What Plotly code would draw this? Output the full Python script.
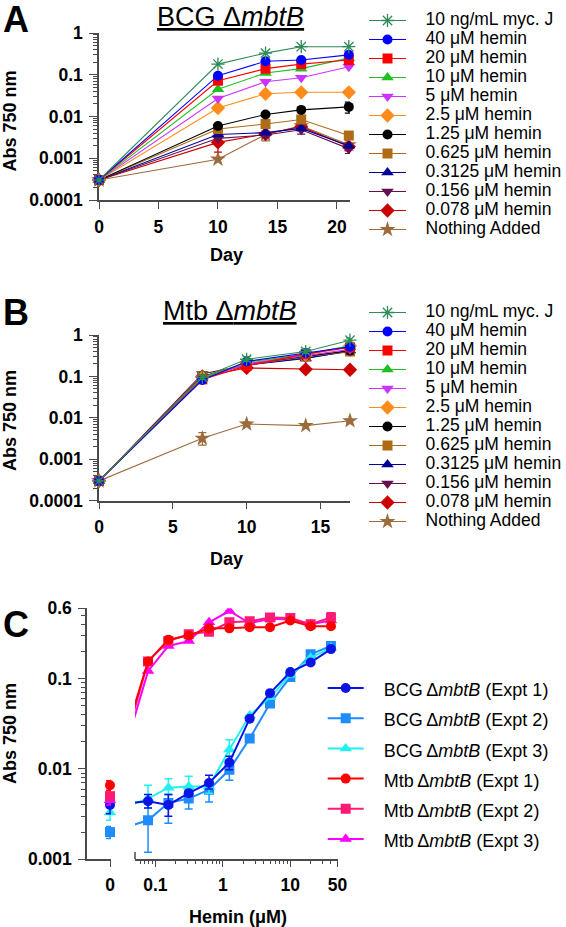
import math
import plotly.graph_objects as go

# ======================= DATA =======================
# Panel A : BCG ΔmbtB growth (Abs 750 nm) by day
days_A = [0, 10, 14, 17, 21]
A_mycJ   = [0.0003, 0.18,   0.33,   0.47,   0.47]
A_h40    = [0.0003, 0.095,  0.21,   0.225,  0.30]
A_h20    = [0.0003, 0.072,  0.14,   0.18,   0.225]
A_h10    = [0.0003, 0.045,  0.11,   0.14,   0.25]
A_h5     = [0.0003, 0.027,  0.068,  0.085,  0.155]
A_h2_5   = [0.0003, 0.016,  0.035,  0.038,  0.038]
A_h1_25  = [0.0003, 0.0059, 0.0112, 0.0144, 0.017]
A_h0_625 = [0.0003, 0.005,  0.0066, 0.0085, 0.0035]
A_h0_3125= [0.0003, 0.0037, 0.0041, 0.0052, 0.002]
A_h0_156 = [0.0003, 0.003,  0.0036, 0.0048, 0.0017]
A_h0_078 = [0.0003, 0.0024, 0.0038, 0.0057, 0.0019]
A_none   = [0.0003, 0.00095,0.0037, 0.006,  0.0021]
# error bars (plus / minus), panel A
A_none_ep   = [0, 0, 0.0008, 0.0015, 0.0005]
A_none_em   = [0, 0, 0.0011, 0.0015, 0.0004]
A_h0_078_ep = [0, 0.0006, 0, 0.001, 0.0004]
A_h0_078_em = [0, 0.001, 0, 0.001, 0.0004]
A_h0_156_ep = [0, 0, 0, 0.001, 0.0004]
A_h0_156_em = [0, 0, 0.0005, 0.001, 0.0004]
A_h1_25_ep  = [0, 0, 0, 0, 0.005]
A_h1_25_em  = [0, 0, 0, 0, 0.005]
A_h0_625_ep = [0, 0, 0, 0.0015, 0.0008]
A_h0_625_em = [0, 0, 0, 0.0015, 0.0008]

# Panel B : Mtb ΔmbtB growth by day
days_B = [0, 7, 10, 14, 17]
B_mycJ   = [0.0003, 0.095, 0.26, 0.40, 0.75]
B_h40    = [0.0003, 0.082, 0.23, 0.37, 0.52]
B_h20    = [0.0003, 0.085, 0.18, 0.35, 0.50]
B_h10    = [0.0003, 0.09,  0.22, 0.34, 0.55]
B_h5     = [0.0003, 0.09,  0.20, 0.32, 0.45]
B_h2_5   = [0.0003, 0.095, 0.21, 0.33, 0.55]
B_h1_25  = [0.0003, 0.10,  0.20, 0.31, 0.42]
B_h0_625 = [0.0003, 0.10,  0.19, 0.30, 0.40]
B_h0_3125= [0.0003, 0.10,  0.19, 0.27, 0.42]
B_h0_156 = [0.0003, 0.115, 0.19, 0.28, 0.40]
B_h0_078 = [0.0003, 0.10,  0.16, 0.148, 0.145]
B_none   = [0.0003, 0.0032, 0.0071, 0.0065, 0.0085]
B_none_ep = [0, 0.0012, 0.0008, 0, 0.0008]
B_none_em = [0, 0.0010, 0.0008, 0, 0.0008]
B_mycJ_ep = [0, 0.01, 0.04, 0.05, 0.1]
B_mycJ_em = [0, 0.01, 0.03, 0.04, 0.08]

series_labels = ["10 ng/mL myc. J", "40 μM hemin", "20 μM hemin", "10 μM hemin",
                 "5 μM hemin", "2.5 μM hemin", "1.25 μM hemin", "0.625 μM hemin",
                 "0.3125 μM hemin", "0.156 μM hemin", "0.078 μM hemin", "Nothing Added"]

# Panel C : Abs 750 nm vs hemin concentration
hemin_C = [0.078, 0.156, 0.3125, 0.625, 1.25, 2.5, 5, 10, 20, 40]
C_bcg1 = [0.0044, 0.0040, 0.0054, 0.0070, 0.0118, 0.036, 0.069, 0.118, 0.151, 0.212]
C_bcg2 = [0.0027, 0.0042, 0.0047, 0.0059, 0.0098, 0.0217, 0.053, 0.104, 0.186, 0.23]
C_bcg3 = [0.0047, 0.0062, 0.0064, 0.0064, 0.0164, 0.039, 0.062, 0.11, 0.17, 0.22]
C_mtb1 = [0.155, 0.27, 0.30, 0.36, 0.36, 0.37, 0.37, 0.44, 0.38, 0.38]
C_mtb2 = [0.155, 0.26, 0.31, 0.33, 0.42, 0.43, 0.476, 0.47, 0.40, 0.476]
C_mtb3 = [0.121, 0.23, 0.26, 0.42, 0.56, 0.41, 0.46, 0.45, 0.40, 0.44]
# values with no hemin (plotted at "0")
C_zero = [0.0040, 0.0020, 0.0033, 0.0066, 0.0050, 0.0045]
# error bars (plus, minus) for the hemin points and the zero point
C_bcg1_ep = [0.0008, 0.0012, 0.0004, 0.0015, 0.002, 0, 0, 0, 0, 0]
C_bcg1_em = [0.0007, 0.0010, 0.0004, 0.0010, 0.002, 0, 0, 0, 0, 0]
C_bcg2_ep = [0.0015, 0.0010, 0.0010, 0.0010, 0.002, 0, 0, 0, 0, 0]
C_bcg2_em = [0.0015, 0.0017, 0.0011, 0.0016, 0.0023, 0, 0, 0, 0, 0]
C_bcg3_ep = [0.0019, 0.0016, 0.0019, 0.0010, 0.0046, 0, 0, 0, 0, 0]
C_bcg3_em = [0.0010, 0.0010, 0.0010, 0.0010, 0.0040, 0, 0, 0, 0, 0]
C_mtb2_ep = [0, 0, 0, 0, 0, 0, 0, 0, 0, 0.06]
C_mtb2_em = [0, 0, 0, 0, 0, 0, 0, 0, 0, 0.06]
C_zero_ep = [0.0015, 0.0003, 0.0006, 0.0008, 0.0005, 0.0005]
C_zero_em = [0.0008, 0.0003, 0.0006, 0.0008, 0.0005, 0.0005]
C_labels = ["BCG\u2009Δ<i>mbtB</i> (Expt 1)", "BCG\u2009Δ<i>mbtB</i> (Expt 2)",
            "BCG\u2009Δ<i>mbtB</i> (Expt 3)", "Mtb\u2009Δ<i>mbtB</i> (Expt 1)",
            "Mtb\u2009Δ<i>mbtB</i> (Expt 2)", "Mtb\u2009Δ<i>mbtB</i> (Expt 3)"]

# ======================= LAYOUT HELPERS =======================
W, H = 566, 927
def px(x):
    return x / W
def py(y):
    return 1 - y / H

FONT = "Arial, Liberation Sans, Helvetica, sans-serif"
AX = "#4a4a4a"
TICKFONT = dict(family=FONT, size=17.5, color="black", weight="bold")
NB = "\u00a0\u00a0\u00a0"

styles_AB = [
    ("#2e8b57", "asterisk-open", 11),
    ("#0000ff", "circle", 10),
    ("#ff0000", "square", 10),
    ("#20c020", "triangle-up", 11),
    ("#cc33ff", "triangle-down", 11),
    ("#ff8c1a", "diamond", 11),
    ("#000000", "circle", 10),
    ("#b06b17", "square", 10),
    ("#000099", "triangle-up", 11),
    ("#66104f", "triangle-down", 11),
    ("#cc0000", "diamond", 11),
    ("#9c6b3b", "star", 12),
]
styles_C = [
    ("#0a14e6", "circle"),
    ("#1e8cff", "square"),
    ("#22f0f0", "triangle-up"),
    ("#ff0000", "circle"),
    ("#ff1a75", "square"),
    ("#ff00ff", "triangle-up"),
]

fig = go.Figure()

def add_growth(days, series, errs, xa, ya, legend_id):
    n = len(series)
    for i in reversed(range(n)):
        col, sym, size = styles_AB[i]
        ep, em = errs.get(i, (None, None))
        err = dict(visible=False)
        if ep is not None:
            err = dict(type="data", array=ep, arrayminus=em, symmetric=False,
                       color=col, thickness=1.2, width=4, visible=True)
        fig.add_trace(go.Scatter(
            x=days, y=series[i], mode="lines+markers",
            name=f'<span style="font-size:17.5px">{NB}{series_labels[i]}</span>',
            line=dict(color=col, width=1.1),
            marker=dict(symbol=sym, size=size, color=col,
                        line=dict(color=col, width=1.3 if "open" in sym else 0)),
            error_y=err, cliponaxis=False,
            xaxis=xa, yaxis=ya, legend=legend_id, legendrank=i + 1,
        ))

A_series = [A_mycJ, A_h40, A_h20, A_h10, A_h5, A_h2_5, A_h1_25, A_h0_625,
            A_h0_3125, A_h0_156, A_h0_078, A_none]
A_errs = {11: (A_none_ep, A_none_em), 10: (A_h0_078_ep, A_h0_078_em),
          9: (A_h0_156_ep, A_h0_156_em), 6: (A_h1_25_ep, A_h1_25_em),
          7: (A_h0_625_ep, A_h0_625_em)}
add_growth(days_A, A_series, A_errs, "x", "y", "legend")

B_series = [B_mycJ, B_h40, B_h20, B_h10, B_h5, B_h2_5, B_h1_25, B_h0_625,
            B_h0_3125, B_h0_156, B_h0_078, B_none]
B_errs = {11: (B_none_ep, B_none_em), 0: (B_mycJ_ep, B_mycJ_em)}
add_growth(days_B, B_series, B_errs, "x2", "y2", "legend2")

# ---- Panel C (broken log x axis: "0" segment + 0.05..50 segment) ----
DEC_PX = 67.5                         # pixels per decade on the hemin axis
LOG_LO, LOG_HI = math.log10(0.05), math.log10(50)
ZERO_X = 10 ** (LOG_LO - 25 / DEC_PX)  # where "0" sits on the same scale
LEFT_LO = LOG_LO - (135 - 87) / DEC_PX
LEFT_HI = LOG_LO - (135 - 111) / DEC_PX

C_series = [C_bcg1, C_bcg2, C_bcg3, C_mtb1, C_mtb2, C_mtb3]
C_errs = {0: (C_bcg1_ep, C_bcg1_em), 1: (C_bcg2_ep, C_bcg2_em),
          2: (C_bcg3_ep, C_bcg3_em), 4: (C_mtb2_ep, C_mtb2_em)}
order_C = [1, 2, 0, 5, 4, 3]
for i in order_C:
    col, sym = styles_C[i]
    ep, em = C_errs.get(i, ([0] * len(hemin_C), [0] * len(hemin_C)))
    xs = [ZERO_X] + hemin_C
    ys = [C_zero[i]] + C_series[i]
    msize = 10 if sym != "triangle-up" else 11
    # main segment
    fig.add_trace(go.Scatter(
        x=xs, y=ys, mode="lines+markers",
        name=f'<span style="font-size:18px">{NB}{C_labels[i]}</span>',
        line=dict(color=col, width=2),
        marker=dict(symbol=sym, size=msize, color=col),
        error_y=dict(type="data", array=[C_zero_ep[i]] + ep, arrayminus=[C_zero_em[i]] + em,
                     symmetric=False, color=col, thickness=1.5, width=4),
        cliponaxis=True, xaxis="x4", yaxis="y3", legend="legend3", legendrank=i + 1,
    ))
    # zero segment: line stub + zero point
    fig.add_trace(go.Scatter(
        x=xs[:2], y=ys[:2], mode="lines", line=dict(color=col, width=2),
        showlegend=False, xaxis="x3", yaxis="y3", hoverinfo="skip",
    ))
    fig.add_trace(go.Scatter(
        x=xs[:1], y=ys[:1], mode="markers",
        marker=dict(symbol=sym, size=msize, color=col),
        error_y=dict(type="data", array=[C_zero_ep[i]], arrayminus=[C_zero_em[i]],
                     symmetric=False, color=col, thickness=1.5, width=4),
        cliponaxis=False, showlegend=False, xaxis="x3", yaxis="y3",
    ))

# ======================= AXES =======================
def minor_vals(dlo, dhi, top=None):
    out = []
    for d in range(dlo, dhi):
        for k in range(2, 10):
            v = k * 10 ** d
            if top is None or v < top:
                out.append(v)
    return out

common = dict(showline=True, linecolor=AX, linewidth=1.5, ticks="outside",
              tickcolor=AX, tickwidth=1.4, tickfont=TICKFONT, showgrid=False,
              zeroline=False, layer="below traces", ticklabelstandoff=3)

yA_ticks = [1e-4, 1e-3, 1e-2, 1e-1, 1]
yA_text = ["0.0001", "0.001", "0.01", "0.1", "1"]
ylog_AB = dict(type="log", range=[-4, 0], tickmode="array", tickvals=yA_ticks,
               ticktext=yA_text, ticklen=8,
               minor=dict(tickmode="array", tickvals=minor_vals(-4, 0), ticks="outside",
                          ticklen=4, tickwidth=1, tickcolor=AX))

fig.update_layout(
    width=W, height=H, autosize=False,
    margin=dict(l=0, r=0, t=0, b=0, pad=0, autoexpand=False),
    paper_bgcolor="white", plot_bgcolor="white",
    font=dict(family=FONT, color="black"),
    xaxis=dict(domain=[px(99), px(350)], range=[0, 21.1], anchor="y",
               tickmode="array", tickvals=[0, 5, 10, 15, 20], ticklen=7, **common),
    yaxis=dict(domain=[py(200), py(33)], anchor="x", **ylog_AB, **common),
    xaxis2=dict(domain=[px(99), px(350)], range=[0, 17], anchor="y2",
                tickmode="array", tickvals=[0, 5, 10, 15], ticklen=7, **common),
    yaxis2=dict(domain=[py(500.7), py(335)], anchor="x2", **ylog_AB, **common),
    yaxis3=dict(domain=[py(859.3), py(608.3)], anchor="x3", type="log",
                range=[-3, math.log10(0.6)], tickmode="array",
                tickvals=[0.001, 0.01, 0.1, 0.6], ticktext=["0.001", "0.01", "0.1", "0.6"],
                ticklen=7,
                minor=dict(tickmode="array", tickvals=minor_vals(-3, 0, top=0.6),
                           ticks="outside", ticklen=4, tickwidth=1, tickcolor=AX),
                **common),
    xaxis3=dict(domain=[px(87), px(111)], anchor="y3", type="log",
                range=[LEFT_LO, LEFT_HI], tickmode="array", tickvals=[ZERO_X],
                ticktext=["0"], ticklen=6, **common),
    xaxis4=dict(domain=[px(135), px(337.5)], anchor="y3", type="log",
                range=[LOG_LO, LOG_HI], tickmode="array", tickvals=[0.1, 1, 10, 50],
                ticktext=["0.1", "1", "10", "50"], ticklen=6,
                minor=dict(tickmode="array",
                           tickvals=[v for v in minor_vals(-2, 2) if 0.05 < v < 50],
                           ticks="outside", ticklen=3, tickwidth=1, tickcolor=AX),
                **common),
    legend=dict(x=px(364), y=py(6), xanchor="left", yanchor="top",
                font=dict(family=FONT, size=12, color="black"), itemwidth=37,
                bgcolor="rgba(0,0,0,0)", borderwidth=0, traceorder="normal"),
    legend2=dict(x=px(364), y=py(298), xanchor="left", yanchor="top",
                 font=dict(family=FONT, size=12, color="black"), itemwidth=37,
                 bgcolor="rgba(0,0,0,0)", borderwidth=0, traceorder="normal"),
    legend3=dict(x=px(322.7), y=py(668), xanchor="left", yanchor="top",
                 font=dict(family=FONT, size=20.9, color="black"), itemwidth=36,
                 bgcolor="rgba(0,0,0,0)", borderwidth=0, traceorder="normal"),
    showlegend=True,
)

# axis-break marker at the start of the hemin segment
fig.add_shape(type="line", xref="paper", yref="paper",
              x0=px(135), x1=px(135), y0=py(859.3), y1=py(852),
              line=dict(color=AX, width=1.5))

ann = []
def A(text, x, y, size, bold=True, angle=0):
    ann.append(dict(text=text, x=px(x), y=py(y), xref="paper", yref="paper",
                    showarrow=False, xanchor="center", yanchor="middle", textangle=angle,
                    font=dict(family=FONT, size=size, color="black",
                              weight="bold" if bold else "normal")))

A("A", 16, 19, 36)
A("B", 16, 312, 36)
A("C", 16, 624.5, 36)
A("<u>BCG Δ<i>mbtB</i></u>", 230.5, 17, 27, bold=False)
A("<u>Mtb Δ<i>mbtB</i></u>", 230, 311, 27, bold=False)
A("Abs 750 nm", 10, 121.5, 18, angle=-90)
A("Abs 750 nm", 10, 421, 18, angle=-90)
A("Abs 750 nm", 10, 734, 18, angle=-90)
A("Day", 226, 255, 18)
A("Day", 226, 559, 18)
A("Hemin (μM)", 237.5, 916.7, 18)
fig.update_layout(annotations=ann)

fig.write_html("out.html", config={"displayModeBar": False},
               post_script="document.body.style.margin='0px';document.body.style.padding='0px';")
